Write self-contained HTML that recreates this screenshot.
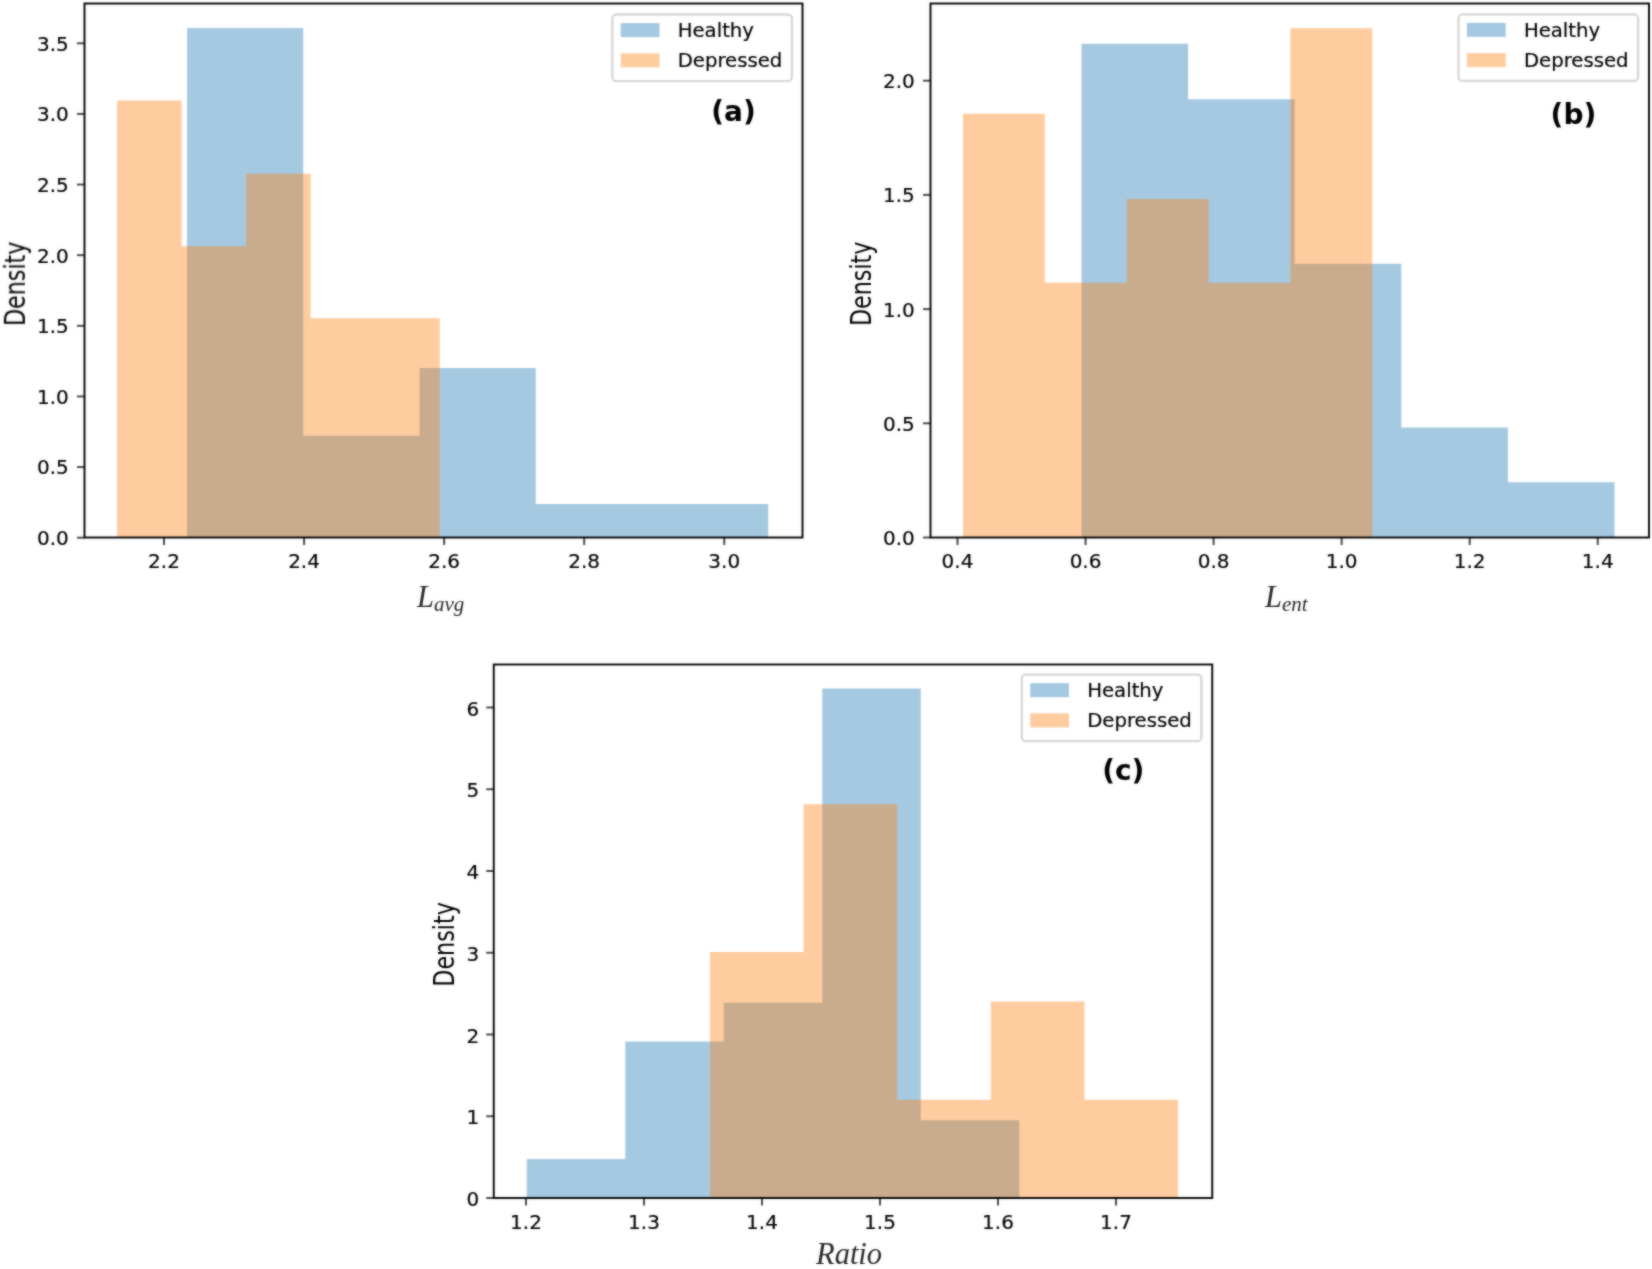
<!DOCTYPE html>
<html><head><meta charset="utf-8"><title>Histograms</title>
<style>
html,body{margin:0;padding:0;background:#fff}
body{width:1652px;height:1269px;overflow:hidden}
svg{display:block}
.tl{font-family:"DejaVu Sans","Liberation Sans",sans-serif;font-size:20px;fill:#000;stroke:#000;stroke-width:0.2px}
.tag{font-family:"DejaVu Sans","Liberation Sans",sans-serif;font-size:28px;font-weight:bold;fill:#000}
.yl{font-family:"DejaVu Sans","Liberation Sans",sans-serif;font-size:28px;fill:#000}
.xl{font-family:"Liberation Serif","DejaVu Serif",serif;font-style:italic;font-size:30.5px;fill:#262626}
.sub{font-size:21px}
.lg{font-size:19.7px}
.tk{stroke:#4a4a4a;stroke-width:2}
.sp{stroke:#000;stroke-width:1.9}
</style></head><body>
<svg width="1652" height="1269" viewBox="0 0 1652 1269">
<defs><filter id="soft" color-interpolation-filters="sRGB" x="0" y="0" width="1652" height="1269" filterUnits="userSpaceOnUse"><feGaussianBlur in="SourceGraphic" stdDeviation="0.85" result="b"/><feComposite in="SourceGraphic" in2="b" operator="arithmetic" k1="0" k2="0.45" k3="0.55" k4="0"/></filter></defs>
<g filter="url(#soft)">
<rect width="1652" height="1269" fill="#fff"/>
<g>
<path d="M187.00 537.5 V28.00 H303.25 V435.75 H419.50 V368.00 H535.75 V504.00 H652.00 V504.00 H768.25 V537.5 Z" fill="#1f77b4" fill-opacity="0.4"/>
<path d="M117.00 537.5 V100.50 H181.55 V246.25 H246.10 V173.75 H310.65 V318.25 H375.20 V318.25 H439.75 V537.5 Z" fill="#ff7f0e" fill-opacity="0.4"/>
<line x1="164.00" y1="537.5" x2="164.00" y2="545.0" class="tk"/>
<text x="164.00" y="568.0" text-anchor="middle" class="tl">2.2</text>
<line x1="304.06" y1="537.5" x2="304.06" y2="545.0" class="tk"/>
<text x="304.06" y="568.0" text-anchor="middle" class="tl">2.4</text>
<line x1="444.12" y1="537.5" x2="444.12" y2="545.0" class="tk"/>
<text x="444.12" y="568.0" text-anchor="middle" class="tl">2.6</text>
<line x1="584.18" y1="537.5" x2="584.18" y2="545.0" class="tk"/>
<text x="584.18" y="568.0" text-anchor="middle" class="tl">2.8</text>
<line x1="724.24" y1="537.5" x2="724.24" y2="545.0" class="tk"/>
<text x="724.24" y="568.0" text-anchor="middle" class="tl">3.0</text>
<line x1="77.0" y1="537.70" x2="84.5" y2="537.70" class="tk"/>
<text x="68.8" y="545.10" text-anchor="end" class="tl">0.0</text>
<line x1="77.0" y1="467.07" x2="84.5" y2="467.07" class="tk"/>
<text x="68.8" y="474.47" text-anchor="end" class="tl">0.5</text>
<line x1="77.0" y1="396.44" x2="84.5" y2="396.44" class="tk"/>
<text x="68.8" y="403.84" text-anchor="end" class="tl">1.0</text>
<line x1="77.0" y1="325.81" x2="84.5" y2="325.81" class="tk"/>
<text x="68.8" y="333.21" text-anchor="end" class="tl">1.5</text>
<line x1="77.0" y1="255.18" x2="84.5" y2="255.18" class="tk"/>
<text x="68.8" y="262.58" text-anchor="end" class="tl">2.0</text>
<line x1="77.0" y1="184.55" x2="84.5" y2="184.55" class="tk"/>
<text x="68.8" y="191.95" text-anchor="end" class="tl">2.5</text>
<line x1="77.0" y1="113.92" x2="84.5" y2="113.92" class="tk"/>
<text x="68.8" y="121.32" text-anchor="end" class="tl">3.0</text>
<line x1="77.0" y1="43.29" x2="84.5" y2="43.29" class="tk"/>
<text x="68.8" y="50.69" text-anchor="end" class="tl">3.5</text>
<rect x="84.5" y="3.5" width="718.0" height="534.0" fill="none" class="sp"/>
<rect x="612.3" y="14.5" width="179.6" height="66.6" rx="4" ry="4" fill="#fff" fill-opacity="0.8" stroke="#ccc" stroke-opacity="0.8" stroke-width="2.3"/>
<rect x="620.6999999999999" y="23.1" width="38.8" height="14" fill="#1f77b4" fill-opacity="0.4"/>
<rect x="620.6999999999999" y="53.3" width="38.8" height="14" fill="#ff7f0e" fill-opacity="0.4"/>
<text x="677.6999999999999" y="36.9" class="tl lg">Healthy</text>
<text x="677.6999999999999" y="66.7" class="tl lg">Depressed</text>
<text x="733.5" y="120.6" text-anchor="middle" class="tag">(a)</text>
<text x="417" y="606.5" class="xl">L<tspan class="sub" dy="4">avg</tspan></text>
<text transform="translate(24.9,283.8) rotate(-90) scale(0.795,1)" text-anchor="middle" class="yl">Density</text>
</g>
<g>
<path d="M1081.50 537.5 V43.75 H1188.10 V99.25 H1294.70 V263.75 H1401.30 V427.50 H1507.90 V482.25 H1614.50 V537.5 Z" fill="#1f77b4" fill-opacity="0.4"/>
<path d="M963.00 537.5 V113.75 H1044.85 V282.75 H1126.70 V199.00 H1208.55 V282.75 H1290.40 V28.25 H1372.25 V537.5 Z" fill="#ff7f0e" fill-opacity="0.4"/>
<line x1="957.50" y1="537.5" x2="957.50" y2="545.0" class="tk"/>
<text x="957.50" y="568.0" text-anchor="middle" class="tl">0.4</text>
<line x1="1085.55" y1="537.5" x2="1085.55" y2="545.0" class="tk"/>
<text x="1085.55" y="568.0" text-anchor="middle" class="tl">0.6</text>
<line x1="1213.60" y1="537.5" x2="1213.60" y2="545.0" class="tk"/>
<text x="1213.60" y="568.0" text-anchor="middle" class="tl">0.8</text>
<line x1="1341.65" y1="537.5" x2="1341.65" y2="545.0" class="tk"/>
<text x="1341.65" y="568.0" text-anchor="middle" class="tl">1.0</text>
<line x1="1469.70" y1="537.5" x2="1469.70" y2="545.0" class="tk"/>
<text x="1469.70" y="568.0" text-anchor="middle" class="tl">1.2</text>
<line x1="1597.75" y1="537.5" x2="1597.75" y2="545.0" class="tk"/>
<text x="1597.75" y="568.0" text-anchor="middle" class="tl">1.4</text>
<line x1="923.0" y1="537.50" x2="930.5" y2="537.50" class="tk"/>
<text x="914.8" y="544.90" text-anchor="end" class="tl">0.0</text>
<line x1="923.0" y1="423.30" x2="930.5" y2="423.30" class="tk"/>
<text x="914.8" y="430.70" text-anchor="end" class="tl">0.5</text>
<line x1="923.0" y1="309.10" x2="930.5" y2="309.10" class="tk"/>
<text x="914.8" y="316.50" text-anchor="end" class="tl">1.0</text>
<line x1="923.0" y1="194.90" x2="930.5" y2="194.90" class="tk"/>
<text x="914.8" y="202.30" text-anchor="end" class="tl">1.5</text>
<line x1="923.0" y1="80.70" x2="930.5" y2="80.70" class="tk"/>
<text x="914.8" y="88.10" text-anchor="end" class="tl">2.0</text>
<rect x="930.5" y="3.5" width="718.5" height="534.0" fill="none" class="sp"/>
<rect x="1458.5" y="14.3" width="179.6" height="66.6" rx="4" ry="4" fill="#fff" fill-opacity="0.8" stroke="#ccc" stroke-opacity="0.8" stroke-width="2.3"/>
<rect x="1466.9" y="22.9" width="38.8" height="14" fill="#1f77b4" fill-opacity="0.4"/>
<rect x="1466.9" y="53.099999999999994" width="38.8" height="14" fill="#ff7f0e" fill-opacity="0.4"/>
<text x="1523.9" y="36.7" class="tl lg">Healthy</text>
<text x="1523.9" y="66.5" class="tl lg">Depressed</text>
<text x="1573.4" y="124.3" text-anchor="middle" class="tag">(b)</text>
<text x="1265" y="607" class="xl">L<tspan class="sub" dy="4">ent</tspan></text>
<text transform="translate(870.7,283.8) rotate(-90) scale(0.795,1)" text-anchor="middle" class="yl">Density</text>
</g>
<g>
<path d="M526.75 1198 V1159.00 H625.25 V1041.50 H723.75 V1002.75 H822.25 V688.50 H920.75 V1120.25 H1019.25 V1198 Z" fill="#1f77b4" fill-opacity="0.4"/>
<path d="M710.00 1198 V952.00 H803.60 V804.25 H897.20 V1099.75 H990.80 V1001.50 H1084.40 V1099.75 H1178.00 V1198 Z" fill="#ff7f0e" fill-opacity="0.4"/>
<line x1="526.00" y1="1198" x2="526.00" y2="1205.5" class="tk"/>
<text x="526.00" y="1228.5" text-anchor="middle" class="tl">1.2</text>
<line x1="644.00" y1="1198" x2="644.00" y2="1205.5" class="tk"/>
<text x="644.00" y="1228.5" text-anchor="middle" class="tl">1.3</text>
<line x1="762.00" y1="1198" x2="762.00" y2="1205.5" class="tk"/>
<text x="762.00" y="1228.5" text-anchor="middle" class="tl">1.4</text>
<line x1="880.00" y1="1198" x2="880.00" y2="1205.5" class="tk"/>
<text x="880.00" y="1228.5" text-anchor="middle" class="tl">1.5</text>
<line x1="998.00" y1="1198" x2="998.00" y2="1205.5" class="tk"/>
<text x="998.00" y="1228.5" text-anchor="middle" class="tl">1.6</text>
<line x1="1116.00" y1="1198" x2="1116.00" y2="1205.5" class="tk"/>
<text x="1116.00" y="1228.5" text-anchor="middle" class="tl">1.7</text>
<line x1="486.25" y1="1198.00" x2="493.75" y2="1198.00" class="tk"/>
<text x="479.25" y="1206.20" text-anchor="end" class="tl">0</text>
<line x1="486.25" y1="1116.25" x2="493.75" y2="1116.25" class="tk"/>
<text x="479.25" y="1124.45" text-anchor="end" class="tl">1</text>
<line x1="486.25" y1="1034.50" x2="493.75" y2="1034.50" class="tk"/>
<text x="479.25" y="1042.70" text-anchor="end" class="tl">2</text>
<line x1="486.25" y1="952.75" x2="493.75" y2="952.75" class="tk"/>
<text x="479.25" y="960.95" text-anchor="end" class="tl">3</text>
<line x1="486.25" y1="871.00" x2="493.75" y2="871.00" class="tk"/>
<text x="479.25" y="879.20" text-anchor="end" class="tl">4</text>
<line x1="486.25" y1="789.25" x2="493.75" y2="789.25" class="tk"/>
<text x="479.25" y="797.45" text-anchor="end" class="tl">5</text>
<line x1="486.25" y1="707.50" x2="493.75" y2="707.50" class="tk"/>
<text x="479.25" y="715.70" text-anchor="end" class="tl">6</text>
<rect x="493.75" y="664.5" width="718.5" height="533.5" fill="none" class="sp"/>
<rect x="1021.8" y="674.6" width="179.6" height="66.6" rx="4" ry="4" fill="#fff" fill-opacity="0.8" stroke="#ccc" stroke-opacity="0.8" stroke-width="2.3"/>
<rect x="1030.2" y="683.2" width="38.8" height="14" fill="#1f77b4" fill-opacity="0.4"/>
<rect x="1030.2" y="713.4" width="38.8" height="14" fill="#ff7f0e" fill-opacity="0.4"/>
<text x="1087.2" y="697.0" class="tl lg">Healthy</text>
<text x="1087.2" y="726.8000000000001" class="tl lg">Depressed</text>
<text x="1123.3" y="780.4" text-anchor="middle" class="tag">(c)</text>
<text x="816" y="1264" class="xl">Ratio</text>
<text transform="translate(453.5,944.4) rotate(-90) scale(0.795,1)" text-anchor="middle" class="yl">Density</text>
</g>
</g>
</svg>
</body></html>
